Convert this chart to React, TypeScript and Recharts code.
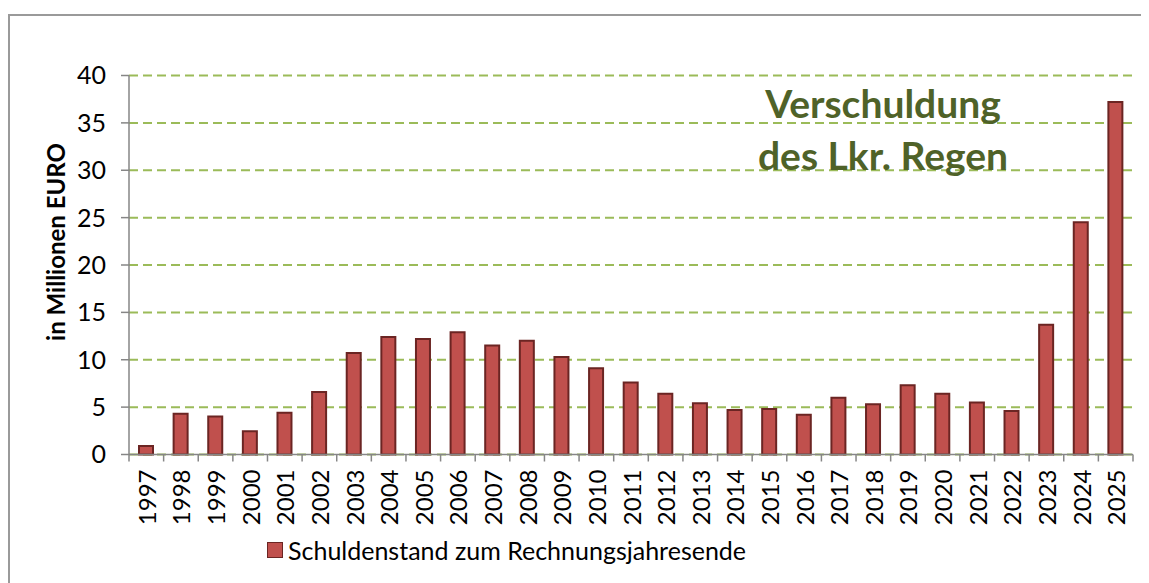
import React from "react";
import {
  BarChart,
  Bar,
  XAxis,
  YAxis,
  CartesianGrid,
  Legend,
} from "recharts";

const years = [
  "1997", "1998", "1999", "2000", "2001", "2002", "2003", "2004", "2005", "2006",
  "2007", "2008", "2009", "2010", "2011", "2012", "2013", "2014", "2015", "2016",
  "2017", "2018", "2019", "2020", "2021", "2022", "2023", "2024", "2025",
];

// Schuldenstand in Mio. EUR
const debt = [
  0.9, 4.3, 4.0, 2.45, 4.4, 6.6, 10.7, 12.4, 12.2, 12.9,
  11.5, 12.0, 10.3, 9.1, 7.6, 6.4, 5.4, 4.7, 4.8, 4.2,
  6.0, 5.3, 7.3, 6.4, 5.5, 4.6, 13.7, 24.5, 37.2,
];

const yTicks = [0, 5, 10, 15, 20, 25, 30, 35, 40];

const seriesName = "Schuldenstand zum Rechnungsjahresende";
const titleLines = ["Verschuldung", "des Lkr. Regen"];
const yLabel = "in Millionen EURO";

const FONT = "Lato, 'Open Sans', sans-serif";
const AXIS = "#868686";
const BAR_FILL = "#c0504d";
const BAR_STROKE = "#6b2523";

const chartData = years.map((year, i) => ({ year, value: debt[i] }));

function YearTick(props: any) {
  const { x, y, payload, index } = props;
  const off = payload.offset || 0;
  const last = index === years.length - 1;
  return (
    <g>
      <line x1={x - off} y1={y} x2={x - off} y2={y + 7} stroke={AXIS} strokeWidth={1.5} />
      {last && (
        <line x1={x + off} y1={y} x2={x + off} y2={y + 7} stroke={AXIS} strokeWidth={1.5} />
      )}
      <text
        x={x}
        y={y + 15}
        transform={`rotate(-90, ${x}, ${y + 15})`}
        textAnchor="end"
        dominantBaseline="central"
        fontFamily={FONT}
        fontSize={24}
        fill="#000"
      >
        {payload.value}
      </text>
    </g>
  );
}

function LegendBox() {
  return (
    <div style={{ display: "flex", alignItems: "center", height: 26, fontFamily: FONT, fontSize: 25, color: "#000" }}>
      <span
        style={{
          display: "inline-block",
          width: 14,
          height: 14,
          background: BAR_FILL,
          border: `1.5px solid ${BAR_STROKE}`,
          marginRight: 5,
        }}
      />
      <span>{seriesName}</span>
    </div>
  );
}

export default function App() {
  return (
    <div style={{ position: "relative", width: 1141, height: 575, overflow: "hidden" }}>
      <style>{`html,body{overflow:hidden}`}</style>
      <div
        style={{
          position: "absolute",
          left: 0,
          top: 6,
          width: 1300,
          height: 700,
          borderTop: "2px solid #9a9a9a",
          borderLeft: "2px solid #9a9a9a",
        }}
      />
      <div style={{ position: "absolute", left: 0, top: 0 }}>
        <BarChart
          width={1141}
          height={575}
          data={chartData}
          margin={{ top: 67.5, right: 16, bottom: 20, left: 0 }}
        >
          <CartesianGrid
            vertical={false}
            stroke="#9bbb59"
            strokeWidth={2}
            strokeDasharray="9 5"
          />
          <XAxis
            dataKey="year"
            height={82.5}
            interval={0}
            tickLine={false}
            tickSize={0}
            tickMargin={0}
            stroke={AXIS}
            strokeWidth={1.5}
            tick={<YearTick />}
          />
          <YAxis
            width={121}
            domain={[0, 40]}
            ticks={yTicks}
            interval={0}
            tickSize={8}
            tickMargin={15}
            stroke={AXIS}
            strokeWidth={1.5}
            tick={{ fontFamily: FONT, fontSize: 25, fill: "#000" }}
          />
          <Legend
            verticalAlign="bottom"
            align="left"
            content={<LegendBox />}
            wrapperStyle={{ left: 259, width: "auto" }}
          />
          <Bar
            dataKey="value"
            name={seriesName}
            fill={BAR_FILL}
            stroke={BAR_STROKE}
            strokeWidth={2}
            barSize={14}
            isAnimationActive={false}
          />
          <text
            x={47}
            y={234}
            transform="rotate(-90, 47, 234)"
            textAnchor="middle"
            dominantBaseline="central"
            fontFamily={FONT}
            fontWeight={700}
            fontSize={24}
            fill="#000"
          >
            {yLabel}
          </text>
          {titleLines.map((line, i) => (
            <text
              key={line}
              x={875}
              y={110 + i * 52}
              textAnchor="middle"
              fontFamily={FONT}
              fontWeight={700}
              fontSize={39}
              fill="#4f6228"
            >
              {line}
            </text>
          ))}
        </BarChart>
      </div>
    </div>
  );
}
